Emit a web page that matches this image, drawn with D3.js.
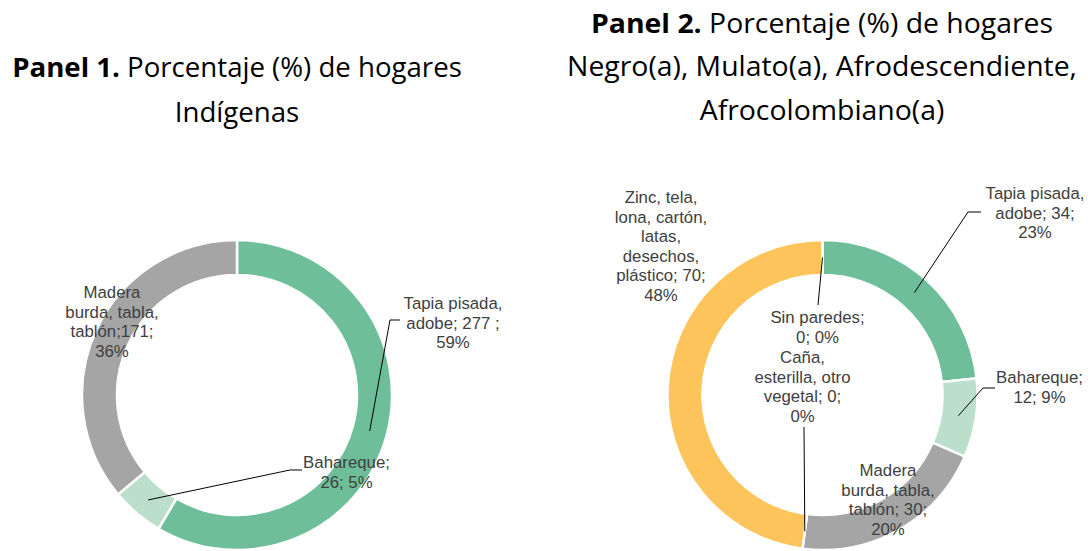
<!DOCTYPE html>
<html><head><meta charset="utf-8">
<script src="https://cdn.jsdelivr.net/npm/d3@7"></script>
<style>body{margin:0;background:#fff}svg{display:block}</style>
</head><body><svg id="c" width="1088" height="551"></svg>
<script>
// ---------- DATA ----------
const p1Categories = ["Tapia pisada, adobe", "Bahareque", "Madera burda, tabla, tablón"];
const p1Values = [277, 26, 171];
const p1Labels = [
  ["Tapia pisada,", "adobe; 277 ;", "59%"],
  ["Bahareque;", "26; 5%"],
  ["Madera", "burda, tabla,", "tablón;171;", "36%"]
];

const p2Categories = ["Tapia pisada, adobe", "Bahareque", "Madera burda, tabla, tablón",
  "Caña, esterilla, otro vegetal", "Zinc, tela, lona, cartón, latas, desechos, plástico", "Sin paredes"];
const p2Values = [34, 12, 30, 0, 70, 0];
const p2Labels = [
  ["Tapia pisada,", "adobe; 34;", "23%"],
  ["Bahareque;", "12; 9%"],
  ["Madera", "burda, tabla,", "tablón; 30;", "20%"],
  ["Caña,", "esterilla, otro", "vegetal; 0;", "0%"],
  ["Zinc, tela,", "lona, cartón,", "latas,", "desechos,", "plástico; 70;", "48%"],
  ["Sin paredes;", "0; 0%"]
];

const title1Bold = "Panel 1.";
const title1Lines = [" Porcentaje (%) de hogares", "Indígenas"];
const title2Bold = "Panel 2.";
const title2Lines = [" Porcentaje (%) de hogares", "Negro(a), Mulato(a), Afrodescendiente,", "Afrocolombiano(a)"];

// ---------- STYLE / LAYOUT ----------
const colorOf = {
  "Tapia pisada, adobe": "#6dbe99",
  "Bahareque": "#bcdfcc",
  "Madera burda, tabla, tablón": "#a5a5a5",
  "Caña, esterilla, otro vegetal": "#5b9bd5",
  "Zinc, tela, lona, cartón, latas, desechos, plástico": "#fec45c",
  "Sin paredes": "#4472c4"
};
const outerR = 155, innerR = 120;
const labelFont = "'Liberation Sans', Arial, sans-serif";
const labelSize = 16.8, lineH = 19.6, textColor = "#404040";

const p1Layout = [
  {dx: 216, dy: -86, leader: [[153, -75], [163, -75]]},
  {dx: 109.5, dy: 73, leader: [[53, 75], [65, 75]]},
  {dx: -125, dy: -97, leader: null}
];
const p2Layout = [
  {dx: 212.5, dy: -196, leader: [[145.5, -183], [158.5, -183]]},
  {dx: 217, dy: -12, leader: [[160.5, -7], [172.5, -7]]},
  {dx: 65.5, dy: 81, leader: null},
  {dx: -20, dy: -32, leader: [[-18.5, 32]]},
  {dx: -161.5, dy: -192, leader: null},
  {dx: -5, dy: -72, leader: [[-4.5, -90]]}
];

const svg = d3.select("#c");

function donut(cx, cy, cats, vals, labels, layout) {
  const g = svg.append("g").attr("transform", `translate(${cx},${cy})`);
  const pie = d3.pie().sort(null).value(d => d.v);
  const data = pie(cats.map((c, i) => ({c, v: vals[i], i})));
  const arc = d3.arc().innerRadius(innerR).outerRadius(outerR);
  g.selectAll("path.slice").data(data.filter(d => d.data.v > 0)).join("path")
    .attr("class", "slice")
    .attr("d", arc)
    .attr("fill", d => colorOf[d.data.c])
    .attr("stroke", "#fff").attr("stroke-width", 2.5);

  data.forEach((d, i) => {
    const L = layout[i];
    if (L.leader) {
      const c = arc.centroid(d);
      g.append("path")
        .attr("d", d3.line()([c].concat(L.leader)))
        .attr("fill", "none").attr("stroke", "#000").attr("stroke-width", 1);
    }
    const t = g.append("text")
      .attr("text-anchor", "middle")
      .attr("font-family", labelFont).attr("font-size", labelSize)
      .attr("fill", textColor);
    labels[i].forEach((ln, k) => {
      t.append("tspan").attr("x", L.dx).attr("y", L.dy + k * lineH).text(ln);
    });
  });
}

donut(237, 395, p1Categories, p1Values, p1Labels, p1Layout);
donut(822.5, 395, p2Categories, p2Values, p2Labels, p2Layout);

// ---------- TITLES ----------
const titleFont = "'Open Sans', Lato, sans-serif";
const titleSize = 27.5;
function title(cx, y0, bold, lines, gap, fitIdx, fitW) {
  const g = svg.append("g");
  const els = [];
  lines.forEach((ln, k) => {
    const t = g.append("text").attr("x", 0).attr("y", y0 + k * gap)
      .attr("text-anchor", "middle").attr("font-family", titleFont)
      .attr("font-size", titleSize).attr("fill", "#000");
    if (k === 0) {
      t.append("tspan").attr("font-weight", "bold").text(bold);
      t.append("tspan").text(ln);
    } else t.text(ln);
    els.push(t);
  });
  const w = els[fitIdx].node().getBBox().width;
  const sx = fitW / w;
  g.attr("transform", `translate(${cx},0) scale(${sx},1)`);
}
title(237, 77, title1Bold, title1Lines, 45, 0, 450);
title(822, 33, title2Bold, title2Lines, 43.5, 1, 510);
</script>
</body></html>
